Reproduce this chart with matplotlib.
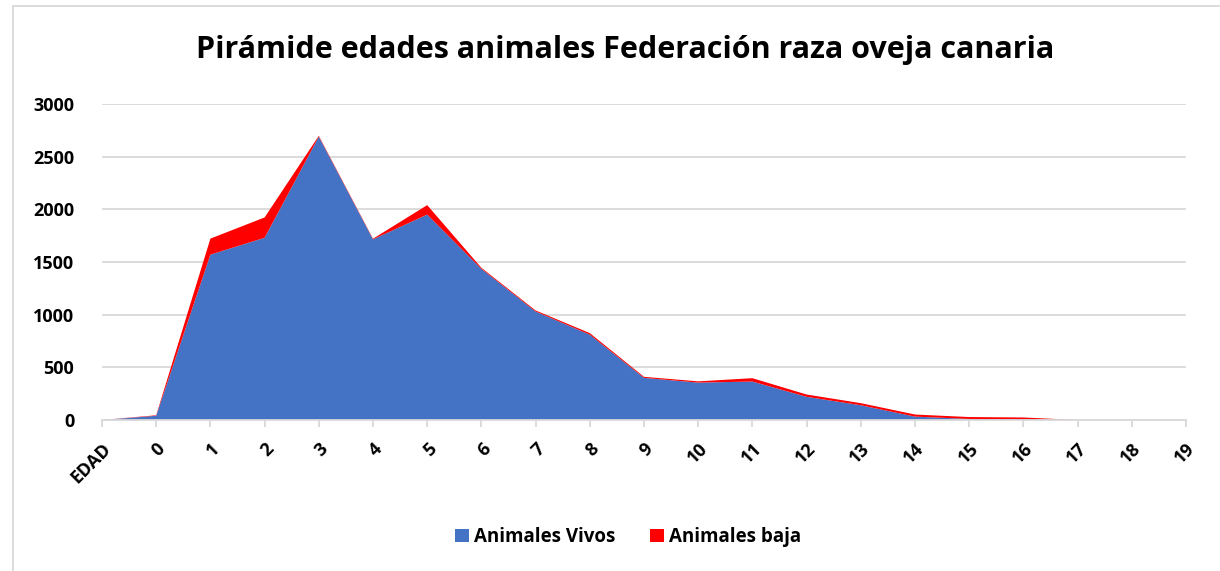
import matplotlib
matplotlib.use("Agg")
import matplotlib.pyplot as plt
from matplotlib.lines import Line2D
from matplotlib.patches import Patch
import numpy as np

categories = ["EDAD"] + [str(i) for i in range(20)]
vivos = [0, 40, 1570, 1730, 2690, 1715, 1950, 1435, 1030, 810, 400, 355, 365, 220, 140, 32, 10, 6, 0, 0, 0]
baja = [0, 5, 152, 193, 8, 6, 90, 10, 10, 15, 10, 12, 32, 22, 20, 20, 18, 18, 0, 0, 0]

title = "Pirámide edades animales Federación raza oveja canaria"
legend_labels = ["Animales Vivos", "Animales baja"]
yticks = [0, 500, 1000, 1500, 2000, 2500, 3000]

plt.rcParams['font.family'] = ['Open Sans', 'DejaVu Sans']

W, H = 1220, 571
fig = plt.figure(figsize=(W / 100, H / 100), dpi=100)
ax = fig.add_axes([102 / W, 1 - 420 / H, (1186 - 102) / W, (420 - 104) / H])

x = np.arange(len(categories))
ax.stackplot(x, vivos, baja, colors=["#4472C4", "#FF0000"], linewidth=0)

ax.set_xlim(0, len(categories) - 1)
ax.set_ylim(0, 3000)
ax.set_yticks(yticks)
ax.set_yticklabels([str(v) for v in yticks], fontsize=13, fontweight='bold')
ax.yaxis.grid(True, color="#d9d9d9", linewidth=1.3)
ax.set_axisbelow(True)

ax.set_xticks(x)
ax.set_xticklabels(categories, rotation=45, ha='right', va='top', rotation_mode='anchor',
                   fontsize=13, fontweight='bold')
ax.tick_params(axis='x', length=5, color="#d9d9d9", width=1.3, pad=9)
ax.tick_params(axis='y', length=0, pad=20)

for s in ['top', 'right', 'left']:
    ax.spines[s].set_visible(False)
ax.spines['bottom'].set_color("#d9d9d9")
ax.spines['bottom'].set_linewidth(1.3)

fig.text(625 / W, 1 - 50 / H, title, ha='center', va='center', fontsize=22, fontweight='bold')

handles = [Patch(facecolor="#4472C4", edgecolor='none'), Patch(facecolor="#FF0000", edgecolor='none')]
fig.legend(handles, legend_labels, loc='center', bbox_to_anchor=(628 / W, 1 - 537 / H), ncol=2,
           frameon=False, prop={'size': 13.5, 'weight': 'bold'}, handlelength=0.75, handleheight=0.75,
           handletextpad=0.3, columnspacing=1.8)

# outer frame
fig.add_artist(Line2D([13 / W, 1], [1 - 6 / H, 1 - 6 / H], transform=fig.transFigure, color="#d9d9d9", linewidth=1.3))
fig.add_artist(Line2D([13 / W, 13 / W], [0, 1 - 6 / H], transform=fig.transFigure, color="#d9d9d9", linewidth=1.3))

fig.savefig("out.png", dpi=100)
